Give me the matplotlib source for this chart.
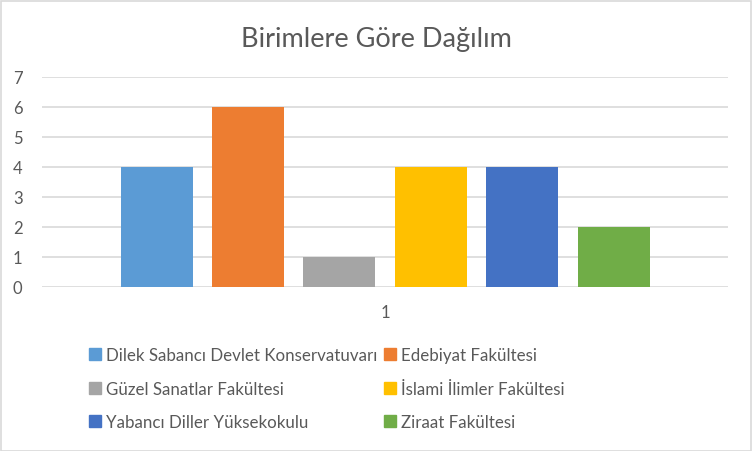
import matplotlib
matplotlib.use("Agg")
from matplotlib import pyplot as plt
from matplotlib.patches import Rectangle, Patch

plt.rcParams['font.family'] = ['Lato', 'DejaVu Sans']

birimler = ["Dilek Sabancı Devlet Konservatuvarı", "Edebiyat Fakültesi",
            "Güzel Sanatlar Fakültesi", "İslami İlimler Fakültesi",
            "Yabancı Diller Yüksekokulu", "Ziraat Fakültesi"]
sayilar = [4, 6, 1, 4, 4, 2]
renkler = ['#5B9BD5', '#ED7D31', '#A5A5A5', '#FFC000', '#4472C4', '#70AD47']
kategori = [1]

fig = plt.figure(figsize=(7.52, 4.52), dpi=100)
ax = fig.add_axes([42/752, 164/452, 686/752, 210/452])

step = 91.4/686
w = 72/686
for i in range(len(birimler)):
    ax.bar(kategori[0] + (i - 2.5)*step, sayilar[i], width=w, color=renkler[i],
           label=birimler[i], zorder=3)

ax.set_xlim(0.5, 1.5)
ax.set_ylim(0, 7)
ax.set_yticks(range(8))
ax.set_xticks(kategori)
ax.set_xticklabels(['1'])
ax.grid(axis='y', color='#D9D9D9', linewidth=1.2, zorder=0)
for s in ax.spines.values():
    s.set_visible(False)
ax.tick_params(length=0, colors='#595959', labelsize=12)
ax.tick_params(axis='y', pad=14)
ax.tick_params(axis='x', pad=12)

fig.text(0.5, 1 - 39/452, 'Birimlere Göre Dağılım', ha='center', va='center',
         fontsize=19.5, color='#595959')

# legend goes row by row, so put the handles in column order
sira = [0, 2, 4, 1, 3, 5]
handles = [Patch(color=renkler[i]) for i in sira]
etiketler = [birimler[i] for i in sira]
fig.legend(handles, etiketler, ncol=2, loc='upper left',
           bbox_to_anchor=(74/752, 1 - 333/452), frameon=False,
           fontsize=12.2, labelcolor='#595959', handlelength=0.7, handleheight=0.7,
           handletextpad=0.3, columnspacing=0.4, labelspacing=1.03)

fig.patches.append(Rectangle((0.5/752, 0.5/452), 750/752, 450/452, transform=fig.transFigure,
                             fill=False, edgecolor='#D9D9D9', linewidth=1.2))

fig.savefig('out.png', dpi=100)
